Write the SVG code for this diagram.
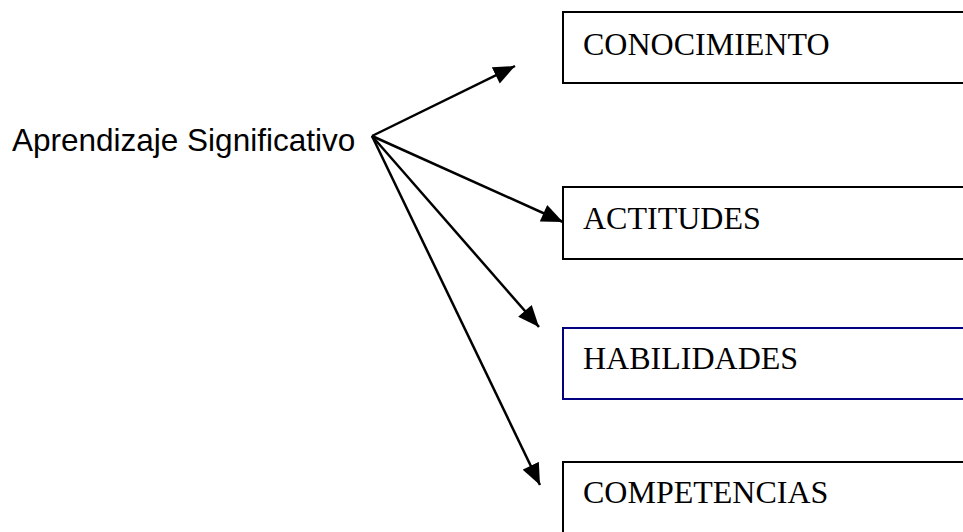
<svg xmlns="http://www.w3.org/2000/svg" width="963" height="532" viewBox="0 0 963 532">
<style>
.box{fill:#fff;stroke:#000;stroke-width:2}
.t{font-family:"Liberation Serif","Times New Roman",serif;font-size:32px;fill:#000}
.s{font-family:"Liberation Sans",Arial,sans-serif;font-size:31.5px;fill:#000}
.c{stroke:#000;stroke-width:2.5;fill:none;marker-end:url(#ah)}
</style>
<defs>
<marker id="ah" markerUnits="userSpaceOnUse" markerWidth="22" markerHeight="18" refX="19" refY="8" orient="auto" viewBox="0 0 19 16">
<path d="M0,0 L19,8 L0,16 Z" fill="#000"/>
</marker>
</defs>
<rect width="963" height="532" fill="#fff"/>
<g id="source"><text class="s" x="12" y="151">Aprendizaje Significativo</text></g>
<g id="n1"><rect class="box" x="563" y="12" width="420" height="71"/><text class="t" x="583" y="55">CONOCIMIENTO</text></g>
<g id="n2"><rect class="box" x="563" y="187" width="420" height="72"/><text class="t" x="583" y="229">ACTITUDES</text></g>
<g id="n3"><rect class="box" x="563" y="328" width="420" height="71" style="stroke:#000080"/><text class="t" x="583" y="369">HABILIDADES</text></g>
<g id="n4"><rect class="box" x="563" y="462" width="420" height="90"/><text class="t" x="583" y="503">COMPETENCIAS</text></g>
<g id="connectors">
<line class="c" x1="372" y1="136" x2="515" y2="66"/>
<line class="c" x1="372" y1="136" x2="563" y2="222"/>
<line class="c" x1="372" y1="136" x2="539" y2="327"/>
<line class="c" x1="372" y1="136" x2="540" y2="485"/>
</g>
</svg>
